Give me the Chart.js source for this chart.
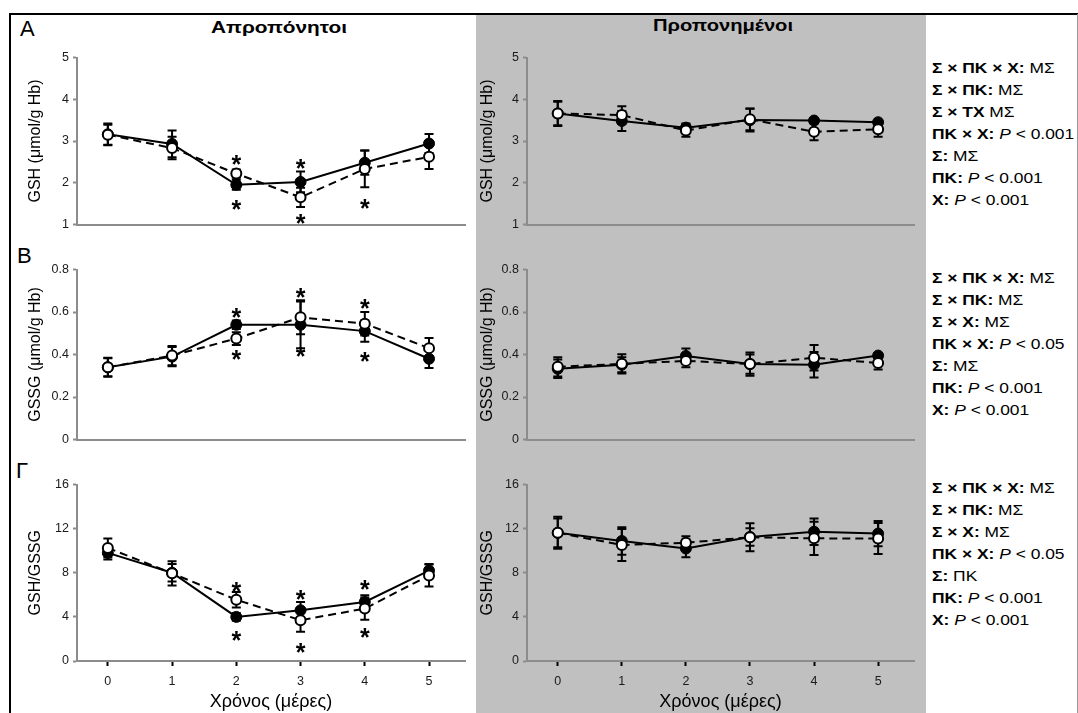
<!DOCTYPE html>
<html><head><meta charset="utf-8">
<script src="https://cdn.jsdelivr.net/npm/chart.js@4.4.0/dist/chart.umd.min.js"></script>
<style>
html,body{margin:0;padding:0;background:#fff;}
#fig{position:relative;width:1078px;height:713px;overflow:hidden;font-family:'Liberation Sans',Arial,sans-serif;color:#000;}
.abs{position:absolute;}
canvas{position:absolute;}
.ann{position:absolute;left:932px;font-size:14.5px;line-height:22px;white-space:nowrap;transform:scaleX(1.2);transform-origin:0 0;}
.letter{position:absolute;font-size:22px;line-height:22px;}
.title{position:absolute;font-weight:bold;font-size:16px;line-height:16px;white-space:nowrap;transform-origin:center;}
</style></head><body>
<div id="fig">
 <div class="abs" style="left:476px;top:14px;width:450px;height:699px;background:#c0c0c0"></div>
 <div class="abs" style="left:9px;top:13px;width:1069px;height:2px;background:#000"></div>
 <div class="abs" style="left:9px;top:13px;width:2px;height:700px;background:#000"></div>
 <div class="abs" style="left:1077px;top:14px;width:1px;height:699px;background:#999"></div>
 <div class="letter" style="left:20px;top:18px">Α</div>
 <div class="letter" style="left:17px;top:245px">Β</div>
 <div class="letter" style="left:16px;top:460px">Γ</div>
 <div class="title" style="left:279px;top:28px;transform:translate(-50%,-50%) scaleX(1.3)">Απροπόνητοι</div>
 <div class="title" style="left:723px;top:26px;transform:translate(-50%,-50%) scaleX(1.26)">Προπονημένοι</div>
 <div class="ann" style="top:57px">
  <div><b>Σ × ΠΚ × Χ:</b> ΜΣ</div>
  <div><b>Σ × ΠΚ:</b> ΜΣ</div>
  <div><b>Σ × ΤΧ</b> ΜΣ</div>
  <div><b>ΠΚ × Χ:</b> <i>P</i> &lt; 0.001</div>
  <div><b>Σ:</b> ΜΣ</div>
  <div><b>ΠΚ:</b> <i>P</i> &lt; 0.001</div>
  <div><b>Χ:</b> <i>P</i> &lt; 0.001</div>
 </div>
 <div class="ann" style="top:267px">
  <div><b>Σ × ΠΚ × Χ:</b> ΜΣ</div>
  <div><b>Σ × ΠΚ:</b> ΜΣ</div>
  <div><b>Σ × Χ:</b> ΜΣ</div>
  <div><b>ΠΚ × Χ:</b> <i>P</i> &lt; 0.05</div>
  <div><b>Σ:</b> ΜΣ</div>
  <div><b>ΠΚ:</b> <i>P</i> &lt; 0.001</div>
  <div><b>Χ:</b> <i>P</i> &lt; 0.001</div>
 </div>
 <div class="ann" style="top:477px">
  <div><b>Σ × ΠΚ × Χ:</b> ΜΣ</div>
  <div><b>Σ × ΠΚ:</b> ΜΣ</div>
  <div><b>Σ × Χ:</b> ΜΣ</div>
  <div><b>ΠΚ × Χ:</b> <i>P</i> &lt; 0.05</div>
  <div><b>Σ:</b> ΠΚ</div>
  <div><b>ΠΚ:</b> <i>P</i> &lt; 0.001</div>
  <div><b>Χ:</b> <i>P</i> &lt; 0.001</div>
 </div>
</div>
<script>
// ---------- data ----------
const days = [0, 1, 2, 3, 4, 5];
const gshTicks = [1, 2, 3, 4, 5];
const gssgTicks = [0, 0.2, 0.4, 0.6, 0.8];
const ratioTicks = [0, 4, 8, 12, 16];

// GSH – untrained
const gshUntrainedFilled = [3.16, 2.93, 1.95, 2.02, 2.48, 2.94];
const gshUntrainedFilledErr = [0.26, 0.32, 0.12, 0.25, 0.29, 0.23];
const gshUntrainedOpen = [3.15, 2.83, 2.22, 1.65, 2.33, 2.62];
const gshUntrainedOpenErr = [0.24, 0.27, 0.10, 0.23, 0.44, 0.29];
// GSH – trained
const gshTrainedFilled = [3.66, 3.48, 3.32, 3.50, 3.49, 3.45];
const gshTrainedFilledErr = [0.30, 0.24, 0.10, 0.27, 0.06, 0.05];
const gshTrainedOpen = [3.66, 3.62, 3.25, 3.52, 3.22, 3.28];
const gshTrainedOpenErr = [0.28, 0.21, 0.15, 0.26, 0.20, 0.18];

// GSSG – untrained
const gssgUntrainedFilled = [0.34, 0.39, 0.54, 0.54, 0.51, 0.38];
const gssgUntrainedFilledErr = [0.045, 0.045, 0.02, 0.11, 0.05, 0.044];
const gssgUntrainedOpen = [0.34, 0.395, 0.475, 0.575, 0.545, 0.43];
const gssgUntrainedOpenErr = [0.042, 0.045, 0.03, 0.08, 0.055, 0.048];
// GSSG – trained
const gssgTrainedFilled = [0.333, 0.352, 0.393, 0.355, 0.352, 0.395];
const gssgTrainedFilledErr = [0.043, 0.035, 0.035, 0.055, 0.06, 0.01];
const gssgTrainedOpen = [0.342, 0.356, 0.37, 0.355, 0.385, 0.36];
const gssgTrainedOpenErr = [0.045, 0.045, 0.03, 0.045, 0.06, 0.03];

// GSH/GSSG – untrained
const ratioUntrainedFilled = [9.8, 8.0, 4.0, 4.6, 5.35, 8.2];
const ratioUntrainedFilledErr = [0.6, 0.8, 0.35, 0.75, 0.6, 0.6];
const ratioUntrainedOpen = [10.25, 7.95, 5.55, 3.7, 4.75, 7.75];
const ratioUntrainedOpenErr = [0.85, 1.1, 0.7, 1.05, 1.0, 1.0];
// GSH/GSSG – trained
const ratioTrainedFilled = [11.62, 10.88, 10.2, 11.24, 11.72, 11.55];
const ratioTrainedFilledErr = [1.3, 1.25, 0.8, 0.8, 1.2, 1.15];
const ratioTrainedOpen = [11.62, 10.52, 10.72, 11.22, 11.12, 11.1];
const ratioTrainedOpenErr = [1.45, 1.45, 0.6, 1.26, 1.5, 1.4];

// significance asterisks (day, level)
const gshStarDays = [2, 2, 3, 3, 4];
const gshStarLevels = [2.57, 1.5, 2.48, 1.16, 1.52];
const gssgStarDays = [2, 2, 3, 3, 4, 4];
const gssgStarLevels = [0.60, 0.404, 0.694, 0.419, 0.645, 0.396];
const ratioStarDays = [2, 2, 3, 3, 4, 4];
const ratioStarLevels = [6.83, 2.34, 6.08, 1.29, 6.98, 2.63];

// ---------- drawing ----------
Chart.defaults.font.family = "'Liberation Sans', Arial, sans-serif";
const AXIS = '#8c8c8c';
const fig = document.getElementById('fig');

const errorBarPlugin = {
  id: 'errbars',
  beforeDatasetsDraw(chart) {
    const ctx = chart.ctx, ys = chart.scales.y;
    ctx.save();
    ctx.strokeStyle = '#000'; ctx.lineWidth = 2;
    chart.data.datasets.forEach((ds, di) => {
      const meta = chart.getDatasetMeta(di);
      meta.data.forEach((pt, j) => {
        const v = ds.data[j].y, e = ds.errors[j];
        const yt = ys.getPixelForValue(v + e), yb = ys.getPixelForValue(v - e);
        ctx.beginPath();
        ctx.moveTo(pt.x, yt); ctx.lineTo(pt.x, yb);
        ctx.moveTo(pt.x - 4.5, yt); ctx.lineTo(pt.x + 4.5, yt);
        ctx.moveTo(pt.x - 4.5, yb); ctx.lineTo(pt.x + 4.5, yb);
        ctx.stroke();
      });
    });
    ctx.restore();
  }
};

function starPlugin(xs, ys) {
  return {
    id: 'stars',
    afterDatasetsDraw(chart) {
      if (!xs) return;
      const ctx = chart.ctx, fs = 25;
      ctx.save();
      ctx.fillStyle = '#000';
      ctx.font = 'bold ' + fs + "px 'Liberation Sans', Arial";
      ctx.textAlign = 'center'; ctx.textBaseline = 'alphabetic';
      xs.forEach((xv, i) => {
        const px = chart.scales.x.getPixelForValue(xv);
        const py = chart.scales.y.getPixelForValue(ys[i]);
        ctx.fillText('*', px, py + 0.57 * fs);
      });
      ctx.restore();
    }
  };
}

function panel(o) {
  const padT = 10, padR = 8;
  const cLeft = Math.round(o.titleX - 9.6);
  const cTop = o.top - padT;
  const w = o.right + padR - cLeft;
  const xH = o.showX ? 52 : 4;
  const h = o.bottom - cTop + xH;
  const yW = o.left - cLeft;
  const cv = document.createElement('canvas');
  cv.width = w; cv.height = h;
  cv.style.left = cLeft + 'px'; cv.style.top = cTop + 'px';
  cv.style.width = w + 'px'; cv.style.height = h + 'px';
  fig.appendChild(cv);
  const yT = o.yTicks;
  new Chart(cv, {
    type: 'line',
    data: {
      datasets: [
        { label: 'filled', data: days.map((d, i) => ({ x: d, y: o.filled[i] })), errors: o.filledErr,
          borderColor: '#000', borderWidth: 2, pointRadius: 5.5, pointBackgroundColor: '#000',
          pointBorderColor: '#000', pointBorderWidth: 1, order: 1, tension: 0 },
        { label: 'open', data: days.map((d, i) => ({ x: d, y: o.open[i] })), errors: o.openErr,
          borderColor: '#000', borderWidth: 2, borderDash: [8, 5], pointRadius: 5, pointBackgroundColor: '#fff',
          pointBorderColor: '#000', pointBorderWidth: 2, order: 0, tension: 0 }
      ]
    },
    options: {
      responsive: false, animation: false, devicePixelRatio: 1,
      layout: { padding: { top: padT, right: padR, left: 0, bottom: 0 } },
      plugins: { legend: { display: false }, tooltip: { enabled: false } },
      scales: {
        x: {
          type: 'linear', min: -0.48, max: 5.56,
          afterBuildTicks: s => { s.ticks = days.map(v => ({ value: v })); },
          afterFit: s => { s.height = xH; },
          grid: { display: o.showX, drawOnChartArea: false, drawTicks: o.showX, tickLength: 5, tickWidth: 2, tickColor: '#000' },
          border: { display: true, color: AXIS, width: 2 },
          ticks: { display: o.showX, padding: 8, color: '#1a1a1a', font: { size: 12.5 }, callback: v => String(v) },
          title: { display: o.showX, text: 'Χρόνος (μέρες)', font: { size: 18 }, color: '#000', padding: 0 }
        },
        y: {
          min: yT[0], max: yT[yT.length - 1],
          afterBuildTicks: s => { s.ticks = yT.map(v => ({ value: v })); },
          afterFit: s => { s.width = yW; },
          grid: { drawOnChartArea: false, drawTicks: true, tickLength: 4, tickWidth: 2, tickColor: AXIS },
          border: { color: AXIS, width: 2 },
          ticks: { padding: 4, color: '#1a1a1a', font: { size: 12.5 }, callback: v => String(v) },
          title: { display: true, text: o.yTitle, font: { size: 16 }, color: '#000', padding: 0 }
        }
      }
    },
    plugins: [errorBarPlugin, starPlugin(o.starX, o.starY)]
  });
}

const L = { left: 77, right: 465, titleX: 36 };
const R = { left: 527, right: 914, titleX: 488 };
const rows = [
  { top: 56, bottom: 232 },
  { top: 268, bottom: 447 },
  { top: 483, bottom: 661 }
];

panel({ ...L, ...rows[0], yTicks: gshTicks, yTitle: 'GSH (μmol/g Hb)', showX: false,
  filled: gshUntrainedFilled, filledErr: gshUntrainedFilledErr, open: gshUntrainedOpen, openErr: gshUntrainedOpenErr,
  starX: gshStarDays, starY: gshStarLevels });
panel({ ...R, ...rows[0], yTicks: gshTicks, yTitle: 'GSH (μmol/g Hb)', showX: false,
  filled: gshTrainedFilled, filledErr: gshTrainedFilledErr, open: gshTrainedOpen, openErr: gshTrainedOpenErr });
panel({ ...L, ...rows[1], yTicks: gssgTicks, yTitle: 'GSSG (μmol/g Hb)', showX: false,
  filled: gssgUntrainedFilled, filledErr: gssgUntrainedFilledErr, open: gssgUntrainedOpen, openErr: gssgUntrainedOpenErr,
  starX: gssgStarDays, starY: gssgStarLevels });
panel({ ...R, ...rows[1], yTicks: gssgTicks, yTitle: 'GSSG (μmol/g Hb)', showX: false,
  filled: gssgTrainedFilled, filledErr: gssgTrainedFilledErr, open: gssgTrainedOpen, openErr: gssgTrainedOpenErr });
panel({ ...L, ...rows[2], yTicks: ratioTicks, yTitle: 'GSH/GSSG', showX: true,
  filled: ratioUntrainedFilled, filledErr: ratioUntrainedFilledErr, open: ratioUntrainedOpen, openErr: ratioUntrainedOpenErr,
  starX: ratioStarDays, starY: ratioStarLevels });
panel({ ...R, ...rows[2], yTicks: ratioTicks, yTitle: 'GSH/GSSG', showX: true,
  filled: ratioTrainedFilled, filledErr: ratioTrainedFilledErr, open: ratioTrainedOpen, openErr: ratioTrainedOpenErr });
</script>
</body></html>
